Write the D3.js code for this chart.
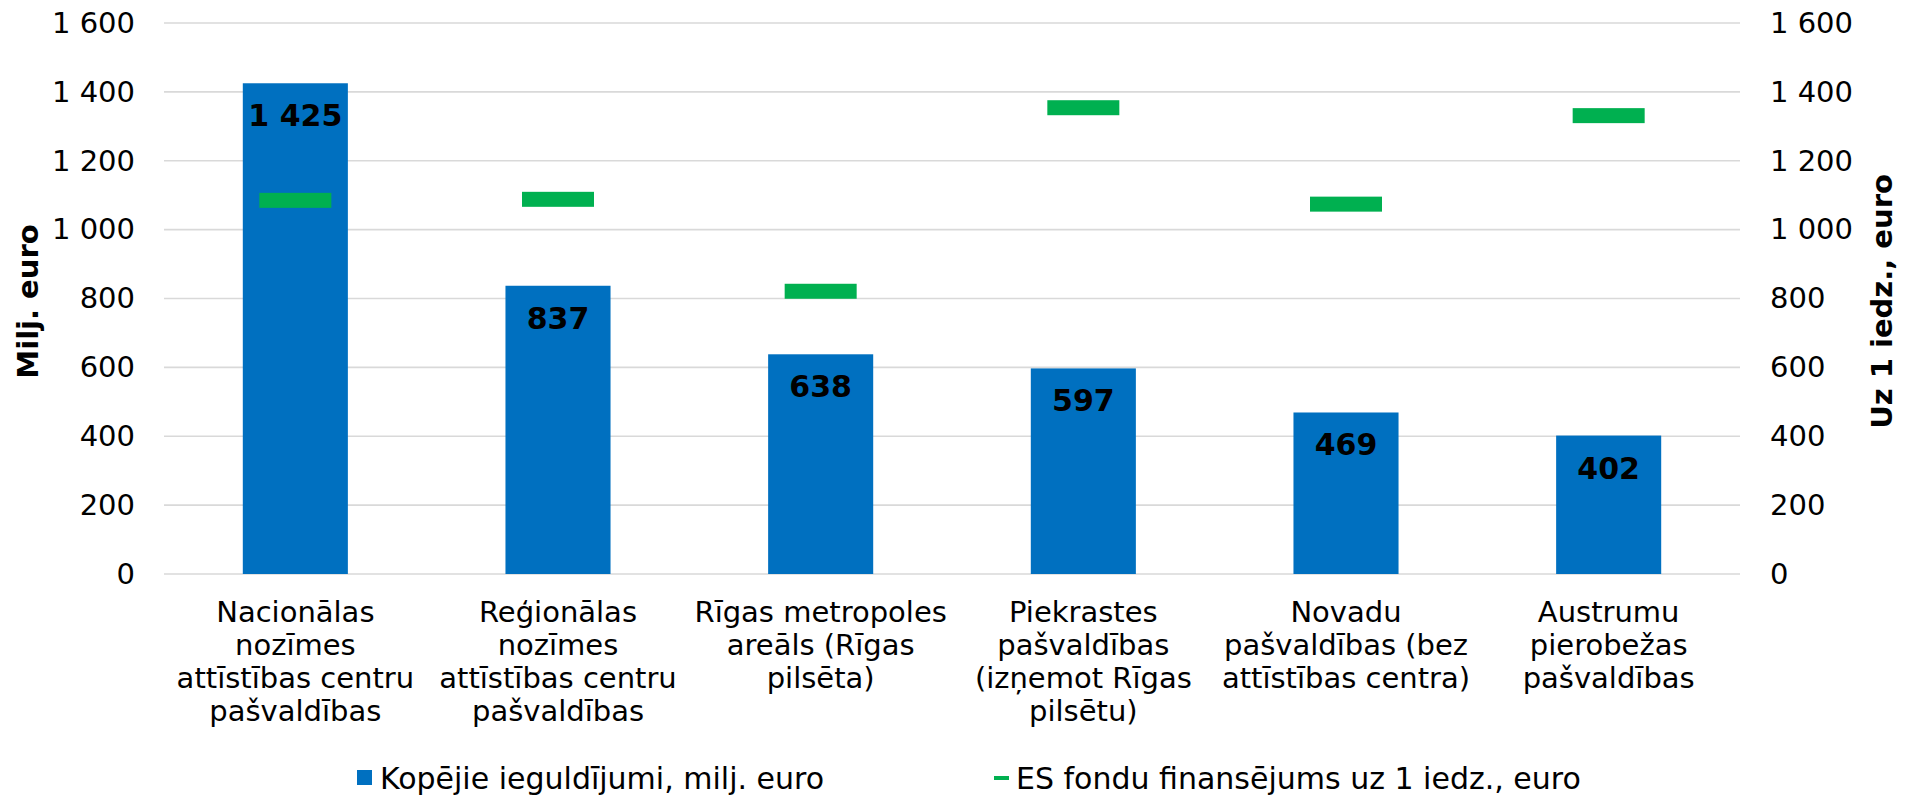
<!DOCTYPE html>
<html>
<head>
<meta charset="utf-8">
<script src="https://cdn.jsdelivr.net/npm/d3@7"></script>
<style>
    body { margin: 0; background: #fff; }
    svg text { font-family: "DejaVu Sans", Verdana, sans-serif; fill: #000; }
</style>
</head>
<body>
<svg id="chart" width="1906" height="796"></svg>
<script>
// data
var categories = [
    ["Nacionālas", "nozīmes", "attīstības centru", "pašvaldības"],
    ["Reģionālas", "nozīmes", "attīstības centru", "pašvaldības"],
    ["Rīgas metropoles", "areāls (Rīgas", "pilsēta)"],
    ["Piekrastes", "pašvaldības", "(izņemot Rīgas", "pilsētu)"],
    ["Novadu", "pašvaldības (bez", "attīstības centra)"],
    ["Austrumu", "pierobežas", "pašvaldības"]
];
var investments = [1425, 837, 638, 597, 469, 402];      // milj. euro, left axis
var perCapita = [1085, 1088, 821, 1354, 1074, 1331];   // euro per resident, right axis
var yTicks = [0, 200, 400, 600, 800, 1000, 1200, 1400, 1600];
var seriesNames = ["Kopējie ieguldījumi, milj. euro", "ES fondu finansējums uz 1 iedz., euro"];
var axisTitles = ["Milj. euro", "Uz 1 iedz., euro"];

var blue = "#0070c0",
    green = "#00b050";

// layout
var margin = {top: 23, right: 166, bottom: 222, left: 164},
    width = 1906 - margin.left - margin.right,
    height = 796 - margin.top - margin.bottom;

var fmt = d3.formatLocale({decimal: ",", thousands: " ", grouping: [3], currency: ["", ""]}).format(",d");

var svg = d3.select("#chart")
  .append("g")
    .attr("transform", "translate(" + margin.left + "," + margin.top + ")");

var idx = d3.range(categories.length);

var x = d3.scaleBand()
    .domain(idx)
    .range([0, width])
    .paddingInner(0.6)
    .paddingOuter(0.3);

var yLeft = d3.scaleLinear().domain([0, 1600]).range([height, 0]);
var yRight = d3.scaleLinear().domain([0, 1600]).range([height, 0]);

// gridlines
svg.append("g")
    .selectAll("line")
    .data(yTicks)
    .enter()
    .append("line")
      .attr("x1", 0)
      .attr("x2", width)
      .attr("y1", function(d) { return yLeft(d); })
      .attr("y2", function(d) { return yLeft(d); })
      .attr("stroke", "#d9d9d9")
      .attr("stroke-width", 1.6);

// left axis
var leftAxis = svg.append("g")
    .call(d3.axisLeft(yLeft).tickValues(yTicks).tickFormat(fmt).tickSize(0).tickPadding(29));
leftAxis.select(".domain").remove();
leftAxis.selectAll("text").style("font-size", "29px").attr("font-family", null);

// right axis
var rightAxis = svg.append("g")
    .attr("transform", "translate(" + width + ",0)")
    .call(d3.axisRight(yRight).tickValues(yTicks).tickFormat(fmt).tickSize(0).tickPadding(30));
rightAxis.select(".domain").remove();
rightAxis.selectAll("text").style("font-size", "29px").attr("font-family", null);

// bars
svg.selectAll(".bar")
    .data(investments)
    .enter()
    .append("rect")
      .attr("class", "bar")
      .attr("x", function(d, i) { return x(i); })
      .attr("y", function(d) { return yLeft(d); })
      .attr("width", x.bandwidth())
      .attr("height", function(d) { return height - yLeft(d); })
      .attr("fill", blue);

// bar value labels (inside end)
svg.selectAll(".val")
    .data(investments)
    .enter()
    .append("text")
      .attr("class", "val")
      .attr("x", function(d, i) { return x(i) + x.bandwidth() / 2; })
      .attr("y", function(d) { return yLeft(d) + 43; })
      .attr("text-anchor", "middle")
      .style("font-size", "30px")
      .style("font-weight", "bold")
      .text(function(d) { return fmt(d); });

// per capita markers (line series with no line, dash markers)
var mW = 72, mH = 15;
svg.selectAll(".mark")
    .data(perCapita)
    .enter()
    .append("rect")
      .attr("class", "mark")
      .attr("x", function(d, i) { return x(i) + x.bandwidth() / 2 - mW / 2; })
      .attr("y", function(d) { return yRight(d) - mH / 2; })
      .attr("width", mW)
      .attr("height", mH)
      .attr("fill", green);

// category labels
var lineH = 33;
var cat = svg.append("g")
    .selectAll("text")
    .data(categories)
    .enter()
    .append("text")
      .attr("text-anchor", "middle")
      .attr("transform", function(d, i) { return "translate(" + (x(i) + x.bandwidth() / 2) + "," + (height + 48) + ")"; })
      .style("font-size", "29px");
cat.selectAll("tspan")
    .data(function(d) { return d; })
    .enter()
    .append("tspan")
      .attr("x", 0)
      .attr("y", function(d, j) { return j * lineH; })
      .text(function(d) { return d; });

// axis titles
svg.append("text")
    .attr("transform", "translate(" + (-margin.left + 38) + "," + (height / 2 + 3) + ") rotate(-90)")
    .attr("text-anchor", "middle")
    .style("font-size", "29px")
    .style("font-weight", "bold")
    .text(axisTitles[0]);

svg.append("text")
    .attr("transform", "translate(" + (width + 152) + "," + (height / 2 + 3) + ") rotate(-90)")
    .attr("text-anchor", "middle")
    .style("font-size", "29px")
    .style("font-weight", "bold")
    .text(axisTitles[1]);

// legend
var legend = d3.select("#chart").append("g");
var legY = 778;
legend.append("rect")
    .attr("x", 357).attr("y", legY - 8)
    .attr("width", 15).attr("height", 15)
    .attr("fill", blue);
legend.append("text")
    .attr("x", 380).attr("y", legY + 11)
    .style("font-size", "30px")
    .text(seriesNames[0]);
legend.append("rect")
    .attr("x", 994).attr("y", legY - 2)
    .attr("width", 15).attr("height", 4)
    .attr("fill", green);
legend.append("text")
    .attr("x", 1016).attr("y", legY + 11)
    .style("font-size", "30px")
    .text(seriesNames[1]);
</script>
</body>
</html>
